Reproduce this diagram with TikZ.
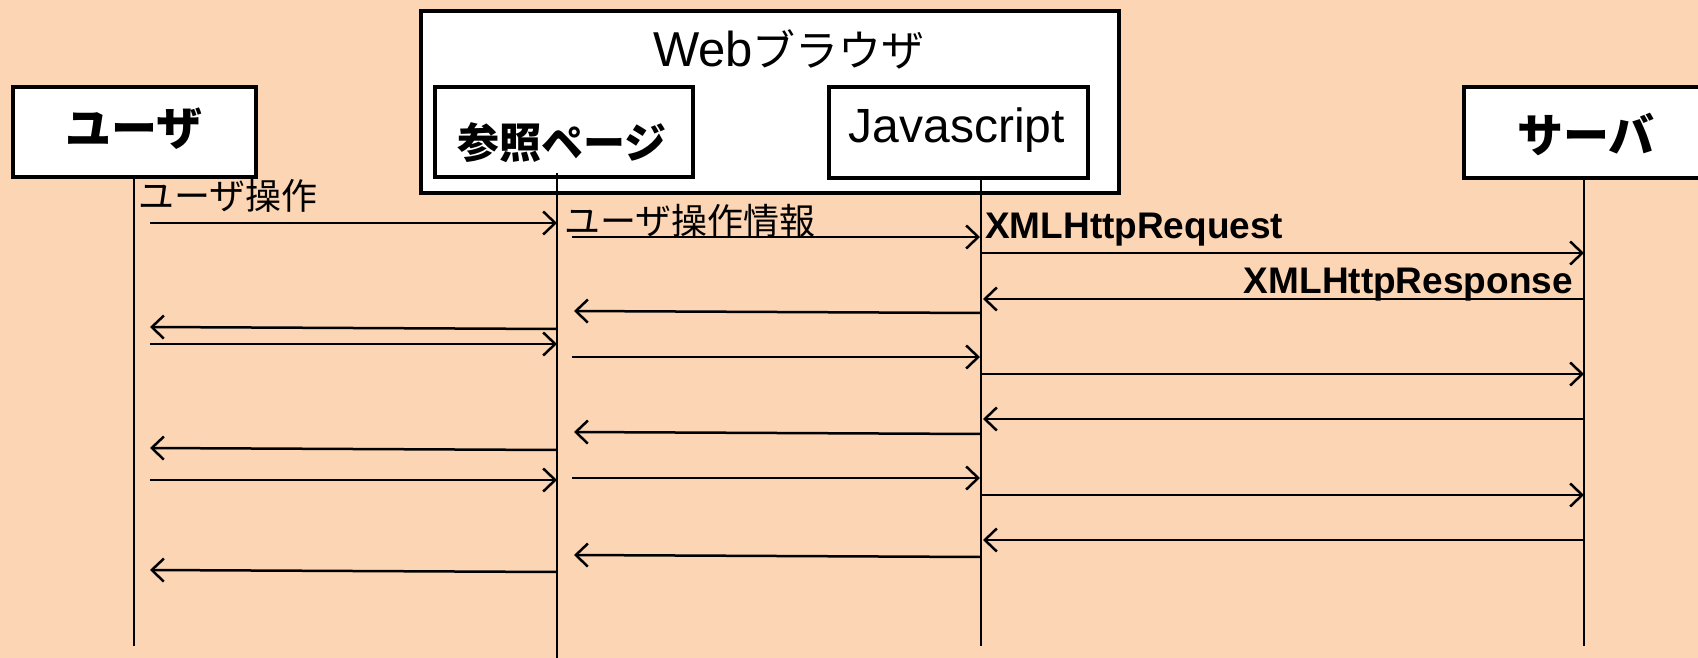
\documentclass[tikz,border=0pt]{standalone}
\usepackage{fontspec}
\setmainfont{Liberation Sans}
\newfontfamily\jp{Noto Sans CJK JP}
\usetikzlibrary{arrows.meta}
\definecolor{bg}{HTML}{FCD5B4}
\begin{document}
\begin{tikzpicture}[x=1pt,y=-1pt,
  box/.style={draw,line width=4pt,fill=white,inner sep=0pt},
  life/.style={line width=2pt},
  msg/.style={line width=2.5pt,-{Straight Barb[length=12pt,width=23pt,line width=2.5pt]}},
  lbl/.style={inner sep=0pt}]
\fill[bg] (0,0) rectangle (1698,658);
\useasboundingbox (0,0) rectangle (1698,658);
% boxes
\node[box,minimum width=243pt,minimum height=90pt] (user) at (134.5,132) {};
\node[box,minimum width=698pt,minimum height=182pt] (browser) at (770,102) {};
\node[box,minimum width=258pt,minimum height=90pt] (page) at (564,132) {};
\node[box,minimum width=259pt,minimum height=91pt] (js) at (958.5,132.5) {};
\node[box,minimum width=240pt,minimum height=91pt] (server) at (1584,132.5) {};
% texts
\node[lbl,font=\jp\bfseries\fontsize{46}{46}\selectfont] (userT) at (134,129) {ユーザ};
\node[lbl,font=\jp\bfseries\fontsize{46}{46}\selectfont] (serverT) at (1586,134) {サーバ};
\node[lbl,font=\jp\bfseries\fontsize{42}{42}\selectfont] (pageT) at (562,143) {参照ページ};
\node[lbl,anchor=base,font=\fontsize{48}{48}\selectfont] (jsT) at (957,143) {Javascript};
\node[lbl,anchor=base,font=\fontsize{49}{49}\selectfont] (browserT) at (789,67) {Web{\jp\fontsize{43}{43}\selectfont ブラウザ}};
% lifelines
\coordinate (uTop) at (134,177);   \coordinate (uEnd) at (134,646);
\coordinate (pTop) at (557,173);   \coordinate (pEnd) at (557,658);
\coordinate (jTop) at (981,178);   \coordinate (jEnd) at (981,646);
\coordinate (sTop) at (1584,178);  \coordinate (sEnd) at (1584,646);
\draw[life] (uTop) -- (uEnd);
\draw[life] (pTop) -- (pEnd);
\draw[life] (jTop) -- (jEnd);
\draw[life] (sTop) -- (sEnd);
% messages
\foreach \n/\xa/\ya/\xb/\yb in {
  1/150/223/557/223, 2/572/237/980/237, 3/981/253/1584/253, 4/1584/299/983/299,
  5/981/313/574/311, 6/557/329/150/327, 7/150/344/557/344, 8/572/357/980/357,
  9/981/374/1584/374, 10/1584/419/983/419, 11/981/434/574/432, 12/557/450/150/448,
  13/150/480/557/480, 14/572/478/980/478, 15/981/495/1584/495, 16/1584/540/983/540,
  17/981/557/574/555, 18/557/572/150/570}{
  \coordinate (m\n s) at (\xa,\ya);
  \coordinate (m\n e) at (\xb,\yb);
  \draw[msg] (m\n s) -- (m\n e);
}
% labels
\node[lbl,anchor=west,font=\jp\fontsize{36}{36}\selectfont] (l1) at (138,196) {ユーザ操作};
\node[lbl,anchor=west,font=\jp\fontsize{36}{36}\selectfont] (l2) at (564,221) {ユーザ操作情報};
\node[lbl,anchor=base west,font=\bfseries\fontsize{37}{37}\selectfont] (l3) at (985,238) {XMLHttpRequest};
\node[lbl,anchor=base east,font=\bfseries\fontsize{37}{37}\selectfont] (l4) at (1573,293) {XMLHttpResponse};
\end{tikzpicture}
\end{document}
